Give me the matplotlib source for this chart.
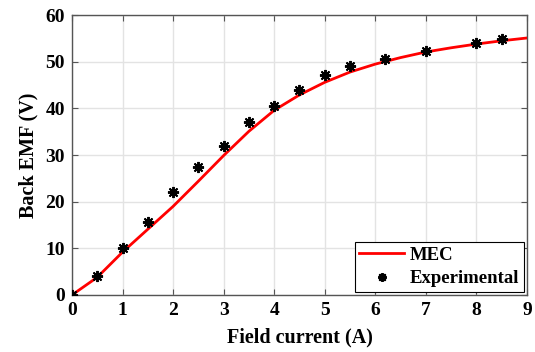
import matplotlib.pyplot as plt
import numpy as np

# MEC model curve
mec_i = [0, 0.5, 1, 1.5, 2, 2.5, 3, 3.5, 4, 4.5, 5, 5.5, 6, 6.5, 7, 7.5, 8, 8.5, 9]
mec_v = [0, 3.8, 9.2, 14.1, 19.0, 24.4, 29.9, 35.1, 39.6, 42.9, 45.6, 47.8, 49.5,
         50.9, 52.1, 53.0, 53.8, 54.5, 55.1]

# experimental points
exp_i = [0, 0.5, 1, 1.5, 2, 2.5, 3, 3.5, 4, 4.5, 5, 5.5, 6.2, 7, 8, 8.5]
exp_v = [0, 4.0, 10.0, 15.6, 22.0, 27.4, 31.9, 37.0, 40.6, 44.0, 47.1, 49.1,
         50.7, 52.4, 54.1, 54.8]

plt.rcParams['font.family'] = ['Liberation Serif', 'DejaVu Serif']
plt.rcParams['font.weight'] = 'bold'

fig = plt.figure(figsize=(5.35, 3.52), dpi=100)
ax = fig.add_axes([0.1346, 0.162, 0.8504, 0.795])

ax.plot(mec_i, mec_v, color='#ff0000', lw=2.0, label='MEC', zorder=3)
ax.plot(exp_i, exp_v, ls='none', marker=(8, 2, 0), color='black', ms=8,
        markeredgewidth=1.4, label='Experimental', zorder=4)

ax.set_xlim(0, 9)
ax.set_ylim(0, 60)
ax.set_xticks(np.arange(0, 10, 1))
ax.set_yticks(np.arange(0, 61, 10))
ax.grid(True, color='#e3e3e3', lw=1.0)
ax.set_axisbelow(True)

for s in ax.spines.values():
    s.set_color('#555555')
    s.set_linewidth(1.0)
ax.tick_params(direction='in', top=True, right=True, length=4, width=0.8,
               color='#555555', labelsize=14, pad=5)
for lab in ax.get_xticklabels() + ax.get_yticklabels():
    lab.set_fontweight('bold')

ax.set_xlabel('Field current (A)', fontsize=14.5, fontweight='bold', labelpad=6)
ax.set_ylabel('Back EMF (V)', fontsize=14.5, fontweight='bold', labelpad=5)

leg = ax.legend(loc='lower right', fontsize=13.5, fancybox=False, framealpha=1,
                edgecolor='black', borderaxespad=0.15, handlelength=2.4,
                borderpad=0.25, labelspacing=0.35, handletextpad=0.3,
                markerscale=0.8)
leg.get_frame().set_linewidth(0.8)
for t in leg.get_texts():
    t.set_fontweight('bold')

fig.savefig('out.png', dpi=100)
